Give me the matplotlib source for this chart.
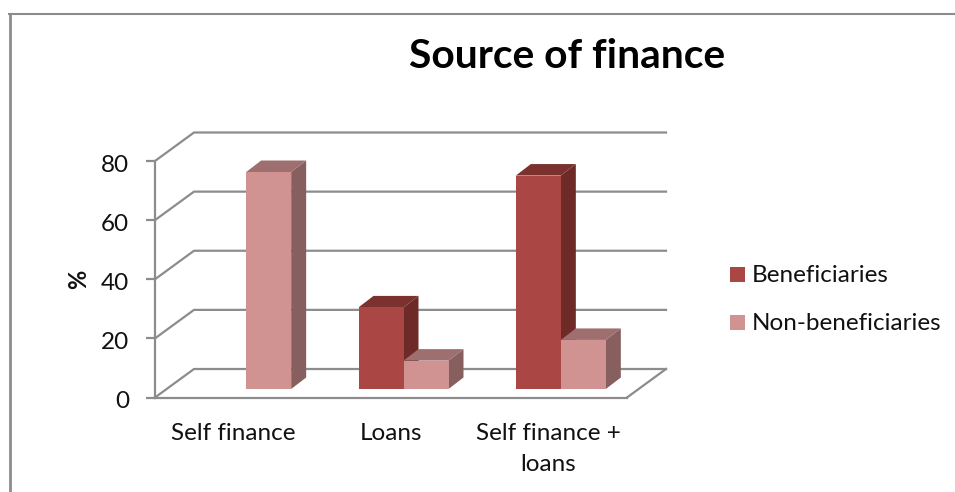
import matplotlib
matplotlib.use("Agg")
import matplotlib.pyplot as plt
from matplotlib.lines import Line2D
from matplotlib.patches import Polygon, Rectangle
from matplotlib.transforms import ScaledTranslation
import numpy as np

plt.rcParams["font.family"] = ["Lato", "DejaVu Sans"]

categories = ["Self finance", "Loans", "Self finance +\nloans"]
beneficiaries = [0, 27.6, 72.2]
non_beneficiaries = [73.4, 9.6, 16.6]
y_ticks = [0, 20, 40, 60, 80]

W, H = 955, 492
# front plane of the 3D box, in pixels
X0, X1 = 155, 627
Y0, Y80 = 397.5, 161
# depth of the box and of the bars
BOX_DX, BOX_DY = 39, 28.5
BAR_DX, BAR_DY = 15, 11.5
BAR_W = 45
BAR_SHIFT = 12.5
BAR_LIFT = 8.5

GRID = "#8c8c8c"
TEXT = "#111111"
BEN = ("#aa4643", "#7b322f", "#6d2a27")
NON = ("#d19392", "#9e6f6e", "#875f5e")

fig = plt.figure(figsize=(W / 100, H / 100), dpi=100)
ax = fig.add_axes([X0 / W, 1 - Y0 / H, (X1 - X0) / W, (Y0 - Y80) / H])
ax.set_xlim(0, 3)
ax.set_ylim(0, 80)
ax.patch.set_visible(False)

ux = 3 / (X1 - X0)
uy = 80 / (Y0 - Y80)

# outer chart frame, only the top and left edges fall inside the image
fig.add_artist(Line2D([9 / W, 1], [1 - 14 / H, 1 - 14 / H], color=GRID, lw=1.5))
fig.add_artist(Line2D([9.5 / W, 9.5 / W], [0, 1 - 13.5 / H], color=GRID, lw=2))

# back wall gridlines and the floor
for t in y_ticks:
    ax.plot([0, BOX_DX * ux, 3 + BOX_DX * ux],
            [t, t + BOX_DY * uy, t + BOX_DY * uy],
            color=GRID, lw=1.6, clip_on=False, zorder=1)
ax.plot([3, 3 + BOX_DX * ux], [0, BOX_DY * uy], color=GRID, lw=1.6, clip_on=False, zorder=1)


def draw_bar(x_left, value, colors):
    w = BAR_W * ux
    b = BAR_LIFT * uy
    dx = BAR_DX * ux
    dy = BAR_DY * uy
    top = b + value
    ax.add_patch(Polygon([(x_left + w, b), (x_left + w + dx, b + dy),
                          (x_left + w + dx, top + dy), (x_left + w, top)],
                         fc=colors[2], ec="none", clip_on=False, zorder=3))
    ax.add_patch(Polygon([(x_left, top), (x_left + dx, top + dy),
                          (x_left + w + dx, top + dy), (x_left + w, top)],
                         fc=colors[1], ec="none", clip_on=False, zorder=3))
    ax.bar(x_left, value, width=w, bottom=b, align="edge", color=colors[0],
           clip_on=False, zorder=4)


centers = np.arange(3) + 0.5 + BAR_SHIFT * ux
for i in range(3):
    if beneficiaries[i] > 0:
        draw_bar(centers[i] - BAR_W * ux, beneficiaries[i], BEN)
    draw_bar(centers[i], non_beneficiaries[i], NON)

ax.set_xticks(np.arange(3) + 0.5)
ax.set_xticklabels(categories, fontsize=17.5, linespacing=1.6)
ax.set_yticks(y_ticks)
ax.tick_params(axis="x", length=0, pad=18, labelcolor=TEXT)
ax.tick_params(axis="y", length=6.5, width=1.6, color=GRID, labelsize=17.5, pad=12, labelcolor=TEXT)
ax.set_ylabel("%", fontsize=17, fontweight="bold", labelpad=8, color=TEXT)

# y labels sit a little below their ticks
nudge = ScaledTranslation(0, -2 / 100, fig.dpi_scale_trans)
for lab in ax.get_yticklabels():
    lab.set_transform(lab.get_transform() + nudge)

for side in ["top", "right"]:
    ax.spines[side].set_visible(False)
for side in ["left", "bottom"]:
    ax.spines[side].set_color(GRID)
    ax.spines[side].set_linewidth(1.6)

fig.text(567.5 / W, 1 - 56 / H, "Source of finance", fontsize=29.3, fontweight="bold",
         ha="center", va="center", color="black")

# legend
for label, color, y in [("Beneficiaries", BEN[0], 282), ("Non-beneficiaries", NON[0], 330)]:
    fig.add_artist(Rectangle((730 / W, 1 - y / H), 15 / W, 15 / H, fc=color, ec="none",
                             transform=fig.transFigure))
    fig.text(752 / W, 1 - y / H, label, fontsize=17.5, va="baseline", color=TEXT)

fig.savefig("out.png", dpi=100)
